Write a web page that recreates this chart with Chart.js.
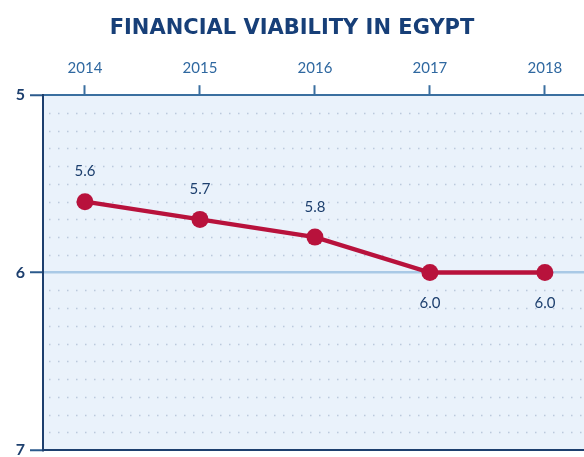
<!DOCTYPE html>
<html>
<head>
<meta charset="utf-8">
<script src="https://cdn.jsdelivr.net/npm/chart.js@4/dist/chart.umd.min.js"></script>
<style>
  html, body { margin: 0; padding: 0; background: #ffffff; overflow: hidden; }
  #wrap { width: 584px; height: 457px; }
</style>
</head>
<body>
<div id="wrap"><canvas id="viability" width="584" height="457"></canvas></div>
<script>
var years = [2014, 2015, 2016, 2017, 2018];
var scores = [5.6, 5.7, 5.8, 6.0, 6.0];
var scoreLabels = ['5.6', '5.7', '5.8', '6.0', '6.0'];
var scoreTicks = [5, 6, 7];

var navy = '#1d3f6e';
var midBlue = '#2f68a0';
var crimson = '#b8123c';

// light blue panel plus dotted rows every tenth of a point
var panelBackground = {
    id: 'panelBackground',
    beforeDraw: function (chart) {
        var ctx = chart.ctx;
        var area = chart.chartArea;
        var y = chart.scales.y;
        ctx.save();
        ctx.fillStyle = '#eaf2fb';
        ctx.fillRect(area.left, area.top, area.right - area.left, area.bottom - area.top);
        ctx.strokeStyle = 'rgba(140,160,190,0.5)';
        ctx.lineWidth = 1.5;
        ctx.setLineDash([1.5, 7.5]);
        for (var i = 1; i < 20; i++) {
            if (i === 10) continue;
            var py = Math.round(y.getPixelForValue(5 + i / 10)) + 0.5;
            ctx.beginPath();
            ctx.moveTo(area.left + 6, py);
            ctx.lineTo(area.right, py);
            ctx.stroke();
        }
        ctx.restore();
    }
};

// value labels: above the point while it sits above 6, below once it reaches 6
var valueLabels = {
    id: 'valueLabels',
    afterDatasetsDraw: function (chart) {
        var ctx = chart.ctx;
        var pts = chart.getDatasetMeta(0).data;
        ctx.save();
        ctx.font = '15px Lato, "Open Sans", sans-serif';
        ctx.fillStyle = navy;
        ctx.textAlign = 'center';
        ctx.textBaseline = 'middle';
        for (var i = 0; i < pts.length; i++) {
            var dy = scores[i] < 6 ? -30 : 31;
            ctx.fillText(scoreLabels[i], pts[i].x, pts[i].y + dy);
        }
        ctx.restore();
    }
};

var ctx = document.getElementById('viability').getContext('2d');
var chart = new Chart(ctx, {
    type: 'line',
    data: {
        datasets: [{
            data: years.map(function (yr, i) { return { x: yr, y: scores[i] }; }),
            borderColor: crimson,
            backgroundColor: crimson,
            borderWidth: 4.5,
            pointRadius: 8.5,
            pointHoverRadius: 8.5,
            pointBackgroundColor: crimson,
            pointBorderWidth: 0,
            tension: 0,
            clip: false
        }]
    },
    options: {
        responsive: false,
        animation: false,
        layout: { autoPadding: false, padding: { top: 0, right: 0, bottom: 7, left: 0 } },
        plugins: {
            legend: { display: false },
            tooltip: { enabled: false },
            title: {
                display: true,
                text: 'FINANCIAL VIABILITY IN EGYPT',
                color: '#173f78',
                font: { family: '"DejaVu Sans", sans-serif', size: 21, weight: 'bold' },
                padding: { top: 16, bottom: 4 }
            }
        },
        scales: {
            x: {
                type: 'linear',
                position: 'top',
                min: 2013.635,
                max: 2018.34,
                afterBuildTicks: function (scale) {
                    scale.ticks = years.map(function (v) { return { value: v }; });
                },
                afterFit: function (scale) {
                    scale.height = 50;
                    scale.paddingLeft = 0;
                    scale.paddingRight = 0;
                },
                ticks: {
                    color: midBlue,
                    font: { family: 'Lato, "Open Sans", sans-serif', size: 15 },
                    padding: 8,
                    maxRotation: 0,
                    callback: function (v) { return String(v); }
                },
                grid: {
                    drawOnChartArea: false,
                    drawTicks: true,
                    tickLength: 10,
                    tickWidth: 2,
                    tickColor: '#3a6fa0'
                },
                border: { display: true, color: '#3a6fa0', width: 2 }
            },
            y: {
                type: 'linear',
                reverse: true,
                min: 5,
                max: 7,
                afterBuildTicks: function (scale) {
                    scale.ticks = scoreTicks.map(function (v) { return { value: v }; });
                },
                afterFit: function (scale) {
                    scale.width = 43;
                    scale.paddingTop = 0;
                    scale.paddingBottom = 0;
                },
                ticks: {
                    color: navy,
                    font: { family: 'Lato, "Open Sans", sans-serif', size: 16, weight: 'bold' },
                    padding: 5,
                    callback: function (v) { return String(v); }
                },
                grid: {
                    drawTicks: true,
                    tickLength: 13,
                    tickWidth: 2,
                    tickColor: '#2b5a8c',
                    lineWidth: 2.5,
                    color: function (c) {
                        return c.tick && c.tick.value === 6 ? '#a9c9e6' : 'rgba(0,0,0,0)';
                    }
                },
                border: { display: true, color: navy, width: 2 }
            }
        }
    },
    plugins: [panelBackground, valueLabels, {
        id: 'bottomEdge',
        afterDraw: function (chart) {
            var c = chart.ctx, a = chart.chartArea;
            c.save();
            c.strokeStyle = navy;
            c.lineWidth = 2;
            c.beginPath();
            c.moveTo(a.left, a.bottom);
            c.lineTo(a.right, a.bottom);
            c.stroke();
            c.restore();
        }
    }]
});
</script>
</body>
</html>
